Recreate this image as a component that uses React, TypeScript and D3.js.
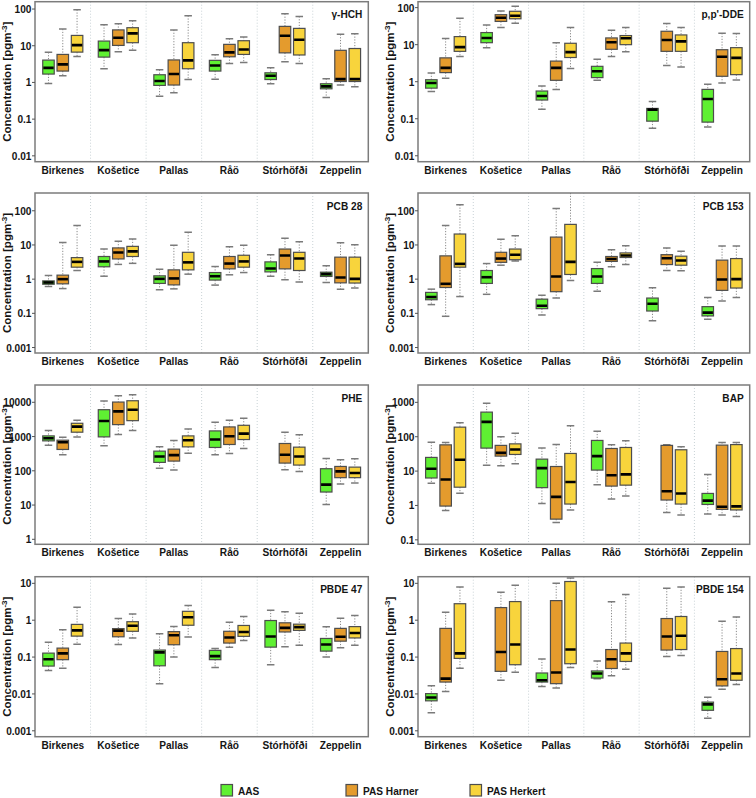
import React from "react";
import * as d3 from "d3";

const stations = ["Birkenes", "Košetice", "Pallas", "Råö", "Stórhöfði", "Zeppelin"];
const samplers = ["AAS", "PAS Harner", "PAS Herkert"];
const samplerColors = ["#5FF032", "#E49B2D", "#F8D43C"];

type B = number[] | null; // [whiskerLow, q1, median, q3, whiskerHigh]

// rows: stations; columns: AAS, PAS Harner, PAS Herkert
const gammaHCH: B[][] = [
  [[0.94, 1.69, 2.5, 4.06, 6.6], [1.52, 2.04, 3.1, 5.8, 28.5], [5.1, 6.7, 10.4, 19.1, 96]],
  [[2.36, 4.9, 7.6, 13.4, 37.5], [6.9, 10.2, 16.5, 27, 40], [7.5, 12.1, 21.7, 31, 48]],
  [[0.42, 0.83, 1.09, 1.62, 2.2], [0.52, 0.85, 1.69, 4.1, 27], [1.2, 2.36, 4.0, 12.1, 66]],
  [[1.23, 2.04, 2.9, 4.0, 5.7], [3.3, 5.0, 6.6, 10.9, 15.5], [3.5, 5.8, 7.9, 13.7, 17.2]],
  [[0.92, 1.2, 1.52, 1.83, 2.5], [3.66, 6.4, 18.7, 33.7, 74], [3.3, 5.6, 14.6, 29.7, 63]],
  [[0.39, 0.67, 0.78, 0.92, 1.26], [0.85, 1.06, 1.23, 7.5, 20.4], [0.76, 1.06, 1.23, 8.4, 21.2]],
];

const ppDDE: B[][] = [
  [[0.54, 0.67, 0.92, 1.13, 1.72], [1.23, 1.76, 2.36, 4.4, 14.6], [4.8, 6.6, 8.6, 16.5, 52]],
  [[8.3, 11.3, 15.2, 21.2, 33.7], [29.1, 42.4, 53.4, 64.5, 81], [38, 50, 60.5, 79.6, 109]],
  [[0.18, 0.32, 0.41, 0.56, 0.76], [0.62, 1.09, 2.36, 3.6, 11.3], [2.26, 4.5, 6.3, 10.9, 29]],
  [[1.09, 1.29, 1.91, 2.6, 4.06], [4.8, 7.5, 11.6, 15.2, 24.6], [6.4, 10, 14.9, 17.6, 29]],
  [[0.055, 0.086, 0.176, 0.19, 0.29], [2.73, 6.6, 13.4, 23, 37.5], [2.5, 6.6, 12.3, 18.3, 29]],
  [[0.06, 0.081, 0.34, 0.62, 0.85], [0.92, 1.4, 4.7, 7.3, 20.4], [1.11, 1.55, 4.4, 8.3, 20]],
];

const pcb28: B[][] = [
  [[0.61, 0.71, 0.8, 0.89, 1.28], [0.53, 0.73, 1.0, 1.31, 11.9], [1.79, 2.24, 3.2, 4.27, 37.4]],
  [[1.22, 2.3, 3.3, 4.6, 7.6], [2.7, 3.9, 6.0, 8.2, 12.8], [2.9, 4.6, 6.5, 9.1, 14.9]],
  [[0.49, 0.75, 1.02, 1.25, 1.95], [0.52, 0.68, 1.05, 1.87, 9.8], [1.4, 1.87, 3.1, 6.1, 23.4]],
  [[0.67, 0.94, 1.22, 1.56, 2.34], [1.34, 2.0, 2.86, 4.6, 8.9], [1.56, 2.24, 3.3, 5.0, 9.8]],
  [[1.22, 1.63, 2.04, 3.2, 5.2], [0.96, 2.0, 4.9, 7.6, 15.6], [0.82, 1.79, 4.0, 6.1, 12.5]],
  [[0.8, 1.2, 1.4, 1.6, 2.45], [0.51, 0.78, 1.12, 4.4, 11.7], [0.55, 0.77, 1.02, 4.4, 10.2]],
];

const pcb153: B[][] = [
  [[0.18, 0.25, 0.3, 0.41, 0.51], [0.082, 0.57, 0.73, 4.8, 37.4], [0.31, 2.24, 2.8, 20.9, 150]],
  [[0.36, 0.75, 1.14, 1.79, 2.86], [2.56, 3.1, 4.0, 6.1, 14.6], [3.4, 3.7, 5.2, 7.6, 18.7]],
  [[0.089, 0.137, 0.167, 0.26, 0.34], [0.28, 0.43, 1.2, 17, 117], [0.91, 1.37, 3.2, 40, 400]],
  [[0.44, 0.75, 1.2, 2.04, 3.1], [2.3, 3.3, 3.9, 4.6, 7.3], [2.7, 4.3, 4.9, 5.85, 9.5]],
  [[0.061, 0.117, 0.19, 0.28, 0.56], [1.79, 2.67, 4.1, 5.2, 8.2], [1.75, 2.56, 3.5, 4.7, 6.5]],
  [[0.067, 0.084, 0.105, 0.157, 0.29], [0.23, 0.47, 0.98, 3.6, 9.3], [0.29, 0.55, 1.0, 4.0, 9.3]],
];

const phe: B[][] = [
  [[560, 748, 895, 1045, 1490], [293, 420, 684, 782, 957], [978, 1340, 1950, 2440, 2980]],
  [[536, 978, 2850, 6080, 10900], [1140, 2230, 5440, 10160, 15500], [1490, 2910, 6080, 11100, 16600]],
  [[118, 176, 262, 375, 500], [106, 192, 287, 429, 765], [328, 500, 782, 1045, 1670]],
  [[293, 480, 818, 1460, 2610], [321, 586, 1022, 1910, 2980], [448, 818, 1220, 2130, 3400]],
  [null, [108, 168, 293, 627, 1340], [96, 147, 262, 490, 1120]],
  [[10.4, 24, 39.5, 115, 230], [41, 63, 96, 134, 210], [44, 63, 86, 128, 225]],
];

const bap: B[][] = [
  [[4.4, 6.3, 11.7, 25, 69], [0.71, 0.96, 5.7, 58, 68], [2.25, 3.4, 21.3, 190, 253]],
  [[14.9, 46.6, 270, 520, 940], [14.3, 27.3, 34, 56, 100], [16.3, 30.5, 42.6, 62, 127]],
  [[1.15, 3.3, 12.2, 22.3, 46.6], [0.32, 0.4, 1.78, 13.6, 59.5], [0.74, 1.1, 4.8, 32.6, 208]],
  [[4.0, 10.7, 27.3, 78, 145], [1.55, 3.66, 7.6, 45.5, 58], [1.87, 3.9, 8.0, 48.7, 76]],
  [null, [0.62, 1.44, 2.6, 56, 58], [0.53, 1.1, 2.24, 41.7, 51]],
  [[0.56, 1.07, 1.38, 2.24, 7.9], [0.53, 0.77, 0.92, 57, 68], [0.48, 0.74, 0.94, 59, 68]],
];

const pbde47: B[][] = [
  [[0.043, 0.057, 0.087, 0.128, 0.254], [0.05, 0.085, 0.126, 0.175, 0.55], [0.224, 0.37, 0.53, 0.77, 2.24]],
  [null, [0.22, 0.355, 0.52, 0.59, 1.11], [0.33, 0.5, 0.71, 0.91, 1.48]],
  [[0.019, 0.058, 0.134, 0.155, 0.43], [0.1, 0.216, 0.39, 0.49, 0.67], [0.35, 0.73, 1.2, 1.74, 2.5]],
  [[0.052, 0.085, 0.106, 0.152, 0.17], [0.186, 0.24, 0.34, 0.5, 0.88], [0.28, 0.365, 0.48, 0.72, 1.26]],
  [[0.062, 0.186, 0.36, 0.98, 1.87], [0.19, 0.48, 0.62, 0.85, 1.69], [0.21, 0.53, 0.65, 0.78, 1.55]],
  [[0.1, 0.145, 0.22, 0.32, 0.66], [0.18, 0.27, 0.355, 0.6, 1.13], [0.21, 0.33, 0.45, 0.67, 1.34]],
];

const pbde154: B[][] = [
  [[0.0031, 0.0065, 0.008, 0.0102, 0.0166], [0.0116, 0.021, 0.026, 0.6, 1.64], [0.05, 0.092, 0.126, 2.8, 7.97]],
  [null, [0.0235, 0.041, 0.137, 2.2, 5.7], [0.039, 0.062, 0.22, 3.2, 8.9]],
  [[0.0158, 0.021, 0.0235, 0.037, 0.088], [0.0145, 0.019, 0.038, 3.4, 10], [0.052, 0.066, 0.16, 11.2, 14]],
  [[0.026, 0.027, 0.036, 0.042, 0.078], [0.031, 0.049, 0.087, 0.16, 3.16], [0.047, 0.076, 0.126, 0.24, 5.0]],
  [null, [0.103, 0.155, 0.36, 1.11, 7.3], [0.11, 0.16, 0.38, 1.26, 7.97]],
  [[0.0022, 0.0036, 0.0052, 0.006, 0.0081], [0.0134, 0.0165, 0.025, 0.142, 0.94], [0.018, 0.0235, 0.036, 0.17, 1.23]],
];

const ticksA = [0.01, 0.1, 1, 10, 100];
const labelsA = ["0.01", "0.1", "1", "10", "100"];
const labelsB = ["0.001", "0.1", "1", "10", "100"];
const ticksPHE = [1, 10, 100, 1000, 10000];
const labelsPHE = ["1", "10", "100", "1000", "10000"];
const ticksBAP = [0.1, 1, 10, 100, 1000];
const labelsBAP = ["0.1", "1", "10", "100", "1000"];
const ticksPBDE = [0.001, 0.01, 0.1, 1, 10];
const labelsPBDE = ["0.001", "0.01", "0.1", "1", "10"];

const panels = [
  { name: "γ-HCH", data: gammaHCH, col: 0, row: 0, lo: -2.16, hi: 2.2, ticks: ticksA, labels: labelsA },
  { name: "p,p'-DDE", data: ppDDE, col: 1, row: 0, lo: -2.16, hi: 2.16, ticks: ticksA, labels: labelsA },
  { name: "PCB 28", data: pcb28, col: 0, row: 1, lo: -2.16, hi: 2.52, ticks: ticksA, labels: labelsB },
  { name: "PCB 153", data: pcb153, col: 1, row: 1, lo: -2.16, hi: 2.52, ticks: ticksA, labels: labelsB },
  { name: "PHE", data: phe, col: 0, row: 2, lo: -0.146, hi: 4.505, ticks: ticksPHE, labels: labelsPHE },
  { name: "BAP", data: bap, col: 1, row: 2, lo: -1.13, hi: 3.505, ticks: ticksBAP, labels: labelsBAP },
  { name: "PBDE 47", data: pbde47, col: 0, row: 3, lo: -3.16, hi: 1.18, ticks: ticksPBDE, labels: labelsPBDE },
  { name: "PBDE 154", data: pbde154, col: 1, row: 3, lo: -3.16, hi: 1.18, ticks: ticksPBDE, labels: labelsPBDE },
];

const W = 756;
const H = 798;
const colX = [[35, 368.3], [418, 749.7]];
const rowY = [[1.7, 161.7], [193, 353], [385, 544.3], [576.7, 736.7]];
const FONT = "'Liberation Sans', Arial, Helvetica, sans-serif";
const FS = 11.5;
const SX = 0.88;

function Txt({ x, y, anchor = "start", children }: any) {
  return (
    <text
      transform={`translate(${x},${y}) scale(${SX},1)`}
      textAnchor={anchor}
      fontSize={FS}
      fontWeight="bold"
      fontFamily={FONT}
      fill="#151515"
    >
      {children}
    </text>
  );
}

function Panel({ p, idx }: any) {
  const [x0, x1] = colX[p.col];
  const [y0, y1] = rowY[p.row];
  const y = d3.scaleLog().domain([10 ** p.lo, 10 ** p.hi]).range([y1, y0]);
  const xs = d3.scaleBand().domain(stations).range([x0, x1]);
  const xi = d3.scalePoint().domain(samplers).range([-14.3, 14.3]);
  const bw = 11.5;
  const cw = 7.5;
  const clipId = `clip${idx}`;
  const titleX = p.col === 0 ? 11 : 394;
  return (
    <g>
      <defs>
        <clipPath id={clipId}>
          <rect x={x0} y={y0} width={x1 - x0} height={y1 - y0} />
        </clipPath>
      </defs>
      <rect x={x0} y={y0} width={x1 - x0} height={y1 - y0} fill="white" />
      {stations.slice(1).map((s) => (
        <line
          key={s}
          x1={xs(s)}
          x2={xs(s)}
          y1={y0}
          y2={y1}
          stroke="#c9d2d6"
          strokeWidth={1}
          strokeDasharray="1,2"
        />
      ))}
      <g clipPath={`url(#${clipId})`}>
        {p.data.map((row: B[], si: number) =>
          row.map((b: B, ki: number) => {
            if (!b) return null;
            const cx = (xs(stations[si]) as number) + xs.bandwidth() / 2 + (xi(samplers[ki]) as number);
            const [lo, q1, med, q3, hi] = b;
            return (
              <g key={`${si}-${ki}`}>
                <line x1={cx} x2={cx} y1={y(hi)} y2={y(q3)} stroke="#8a8a8a" strokeWidth={1} strokeDasharray="1.2,1.6" />
                <line x1={cx} x2={cx} y1={y(q1)} y2={y(lo)} stroke="#8a8a8a" strokeWidth={1} strokeDasharray="1.2,1.6" />
                <line x1={cx - cw / 2} x2={cx + cw / 2} y1={y(hi)} y2={y(hi)} stroke="#7a7a7a" strokeWidth={1.5} />
                <line x1={cx - cw / 2} x2={cx + cw / 2} y1={y(lo)} y2={y(lo)} stroke="#7a7a7a" strokeWidth={1.5} />
                <rect
                  x={cx - bw / 2}
                  y={y(q3)}
                  width={bw}
                  height={Math.max(0.5, y(q1) - y(q3))}
                  fill={samplerColors[ki]}
                  stroke="#4d4d4d"
                  strokeWidth={1.2}
                />
                <line x1={cx - bw / 2 + 0.6} x2={cx + bw / 2 - 0.6} y1={y(med)} y2={y(med)} stroke="#000" strokeWidth={2.6} />
              </g>
            );
          })
        )}
      </g>
      <rect x={x0} y={y0} width={x1 - x0} height={y1 - y0} fill="none" stroke="#7c7c7c" strokeWidth={1.5} />
      {p.ticks.map((t: number, i: number) => (
        <g key={t}>
          <line x1={x0 - 3} x2={x0} y1={y(t)} y2={y(t)} stroke="#555" strokeWidth={1} />
          <Txt x={x0 - 3.5} y={y(t) + 4} anchor="end">
            {p.labels[i]}
          </Txt>
        </g>
      ))}
      {stations.map((s) => (
        <Txt key={s} x={(xs(s) as number) + xs.bandwidth() / 2} y={y1 + 12} anchor="middle">
          {s}
        </Txt>
      ))}
      <Txt x={x1 - 6} y={y0 + 16.5} anchor="end">
        {p.name}
      </Txt>
      <text
        transform={`translate(${titleX},${(y0 + y1) / 2}) rotate(-90) scale(1,${SX})`}
        textAnchor="middle"
        fontSize={FS}
        fontWeight="bold"
        fontFamily={FONT}
        fill="#151515"
      >
        Concentration [pgm
        <tspan fontSize={8} dy={-4.5}>
          -3
        </tspan>
        <tspan dy={4.5}>]</tspan>
      </text>
    </g>
  );
}

const legendX = [221, 346, 470];

export default function App() {
  return (
    <svg
      width={W}
      height={H}
      style={{ position: "absolute", left: 0, top: 0, background: "white" }}
    >
      <rect x={0} y={0} width={W} height={H} fill="white" />
      {panels.map((p, i) => (
        <Panel key={p.name} p={p} idx={i} />
      ))}
      {samplers.map((s, i) => (
        <g key={s}>
          <rect x={legendX[i]} y={784.5} width={11.5} height={11.5} fill={samplerColors[i]} stroke="#4d4d4d" strokeWidth={1.2} />
          <Txt x={legendX[i] + 17} y={794.5}>
            {s}
          </Txt>
        </g>
      ))}
    </svg>
  );
}
